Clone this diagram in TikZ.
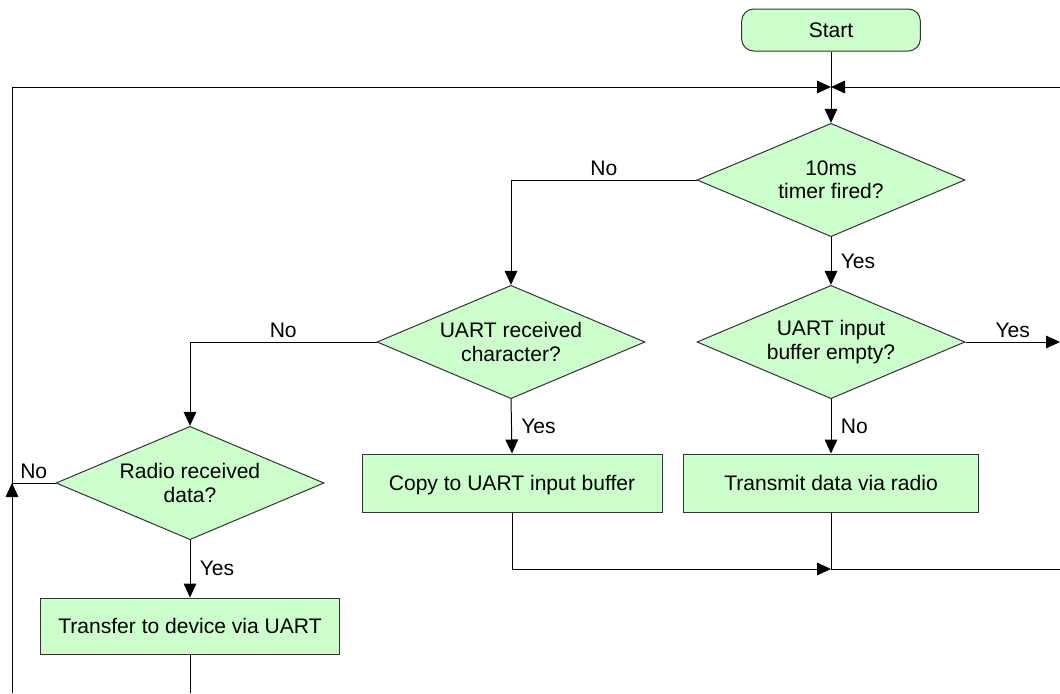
\documentclass[tikz,border=0pt]{standalone}
\usepackage{fontspec}
\setmainfont{Liberation Sans}
\usetikzlibrary{shapes.geometric,arrows.meta}

\definecolor{boxgreen}{HTML}{CCFFCC}

\tikzset{
  arr/.style={-{Triangle[length=10.5pt,width=9.5pt]}},
  stepbox/.style={draw=black!80, fill=boxgreen, minimum height=43.5pt, inner sep=0pt,
    text height=11.3pt, text depth=0pt},
  decision/.style={diamond, draw=black!80, fill=boxgreen, align=center, aspect=2.36,
    inner sep=0pt, minimum width=201pt, minimum height=85pt},
  lbl/.style={inner sep=3pt}
}

\begin{document}
\begin{tikzpicture}[x=0.75pt, y=-0.75pt, line width=0.75pt,
  font=\fontsize{15.8}{17.5}\selectfont]
\useasboundingbox (0,0) rectangle (1060,693);

\node[stepbox, rounded corners=9pt, minimum width=134pt, minimum height=31.5pt] (start) at (831,30) {Start};

\node[decision] (timer) at (831,180) {10ms\\timer fired?};
\node[decision] (uartrx) at (511,342) {UART received\\character?};
\node[decision] (bufempty) at (831,342) {UART input\\buffer empty?};
\node[decision] (radio) at (190,483) {Radio received\\data?};

\node[stepbox, minimum width=225pt] (copy) at (512,483) {Copy to UART input buffer};
\node[stepbox, minimum width=221pt] (transmit) at (831,483) {Transmit data via radio};
\node[stepbox, minimum width=224pt, minimum height=42pt] (transfer) at (190,626) {Transfer to device via UART};

% loop points
\coordinate (join) at (831,87);
\coordinate (rtop) at (1060,87);
\coordinate (rout) at (1060,342);
\coordinate (merge) at (831,569);
\coordinate (rbot) at (1060,569);
\coordinate (lnode) at (12,483);
\coordinate (lbot) at (12,693);
\coordinate (tbot) at (190,693);

\draw (start) -- (join);
\draw[arr] (join) -- (timer.north);
\draw[arr] (rtop) -- (join);

\draw[arr] (timer.west) -| node[pos=0.25, above, lbl] {No} (uartrx.north);
\draw[arr] (timer.south) -- node[right, lbl, xshift=4pt] {Yes} (bufempty.north);

\draw[arr] (bufempty.east) -- node[above, lbl] {Yes} (rout);
\draw[arr] (bufempty.south) -- node[right, lbl, xshift=4pt] {No} (transmit.north);

\draw[arr] (uartrx.west) -| node[pos=0.25, above, lbl] {No} (radio.north);
\draw[arr] (uartrx.south) -- node[right, lbl, xshift=4pt] {Yes} (copy.north);

\draw (radio.west) -- node[above, lbl] {No} (lnode);
\draw[arr] (lnode) |- (join);
\draw[arr] (lbot) -- (lnode);
\draw[arr] (radio.south) -- node[right, lbl, xshift=4pt] {Yes} (transfer.north);

\draw[arr] (copy.south) |- (merge);
\draw (transmit.south) -- (merge) -- (rbot);
\draw (transfer.south) -- (tbot);
\end{tikzpicture}
\end{document}
